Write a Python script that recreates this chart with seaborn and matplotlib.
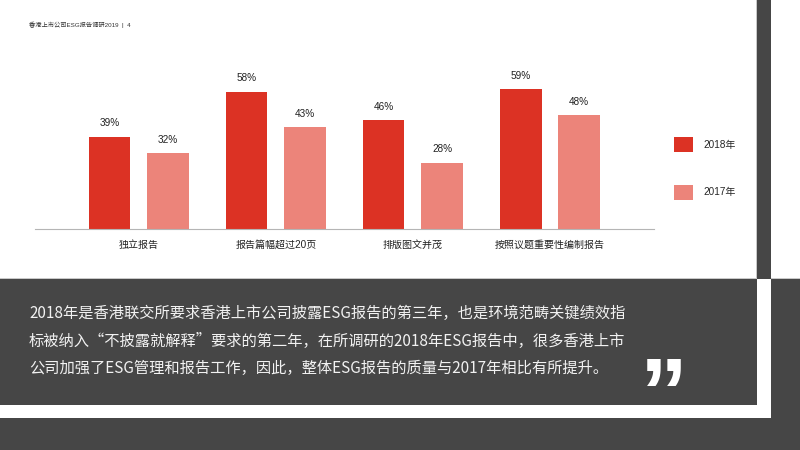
import matplotlib
matplotlib.use("Agg")
import matplotlib.pyplot as plt
import seaborn as sns
import pandas as pd
from matplotlib.patches import Rectangle

# ---- data ----
categories = ["独立报告", "报告篇幅超过20页", "排版图文并茂", "按照议题重要性编制报告"]
years = ["2018年", "2017年"]
values_2018 = [39, 58, 46, 59]
values_2017 = [32, 43, 28, 48]
header_text = "香港上市公司ESG报告调研2019  |  4"
paragraph_lines = [
    "2018年是香港联交所要求香港上市公司披露ESG报告的第三年，也是环境范畴关键绩效指",
    "标被纳入“不披露就解释”要求的第二年，在所调研的2018年ESG报告中，很多香港上市",
    "公司加强了ESG管理和报告工作，因此，整体ESG报告的质量与2017年相比有所提升。",
]
colors = ["#DC3224", "#EC847A"]

df = pd.DataFrame({
    "category": categories * 2,
    "year": [years[0]] * len(categories) + [years[1]] * len(categories),
    "value": values_2018 + values_2017,
})

sns.set_theme(style="white")
plt.rcParams['font.family'] = ['Liberation Sans', 'Noto Sans CJK SC']

W, H = 800, 450
fig = plt.figure(figsize=(8, 4.5), dpi=100)
fig.patch.set_facecolor("white")
DARK = "#464646"


def rect(x, y, w, h, color, z=0):
    fig.add_artist(Rectangle((x / W, 1 - (y + h) / H), w / W, h / H,
                             transform=fig.transFigure, facecolor=color,
                             edgecolor='none', zorder=z))


# background blocks
rect(0, 278, 757, 1, "#c8c8c8")
rect(771, 278, 29, 1, "#c8c8c8")
rect(756, 0, 1, 279, "#c8c8c8")
rect(757, 0, 14, 279, DARK)
rect(0, 279, 757, 126, DARK)
rect(771, 279, 29, 171, DARK)
rect(0, 418, 800, 32, DARK)

# ---- bar chart ----
ax = fig.add_axes([35 / W, 221 / H, 619 / W, 169 / H])
ax.patch.set_alpha(0)
sns.barplot(data=df, x="category", y="value", hue="year", hue_order=years,
            palette=colors, saturation=1, width=0.85, gap=0.29, linewidth=0,
            errorbar=None, ax=ax)
ax.set_xlim(-0.757, 3.759)
ax.set_ylim(0, 71.4)
for container, vals in zip(ax.containers, [values_2018, values_2017]):
    ax.bar_label(container, labels=[f"{v}%" for v in vals], padding=6,
                 fontsize=7.2, color="#222222")
ax.tick_params(axis='x', length=0, pad=8, labelsize=7.2, labelcolor="#222222")
ax.set_yticks([])
ax.set_xlabel("")
ax.set_ylabel("")
for s in ['top', 'right', 'left']:
    ax.spines[s].set_visible(False)
ax.spines['bottom'].set_color('#b5b5b5')
ax.spines['bottom'].set_linewidth(0.8)

leg = ax.get_legend()
handles = leg.legend_handles
labels = [t.get_text() for t in leg.texts]
leg.remove()
fig.legend(handles, labels, loc='upper left', bbox_to_anchor=(674 / W, 1 - 137 / H),
           frameon=False, fontsize=7.2, handlelength=1.9, handleheight=1.9,
           handletextpad=1.0, labelspacing=3.3, borderpad=0, borderaxespad=0)

# ---- texts ----
fig.text(29 / W, 1 - 25 / H, header_text, fontsize=4.5, color='#333333', va='center')
for line, yy in zip(paragraph_lines, [313, 341, 368]):
    fig.text(29 / W, 1 - yy / H, line, fontsize=11, color='#f2f2f2', va='center',
             family=['Noto Sans CJK SC'])
fig.text(640 / W, 1 - 425 / H, "\u201d", fontsize=69, fontweight='bold',
         color='white', family=['Liberation Sans'], va='baseline', ha='left')

fig.savefig("out.png", dpi=100)
